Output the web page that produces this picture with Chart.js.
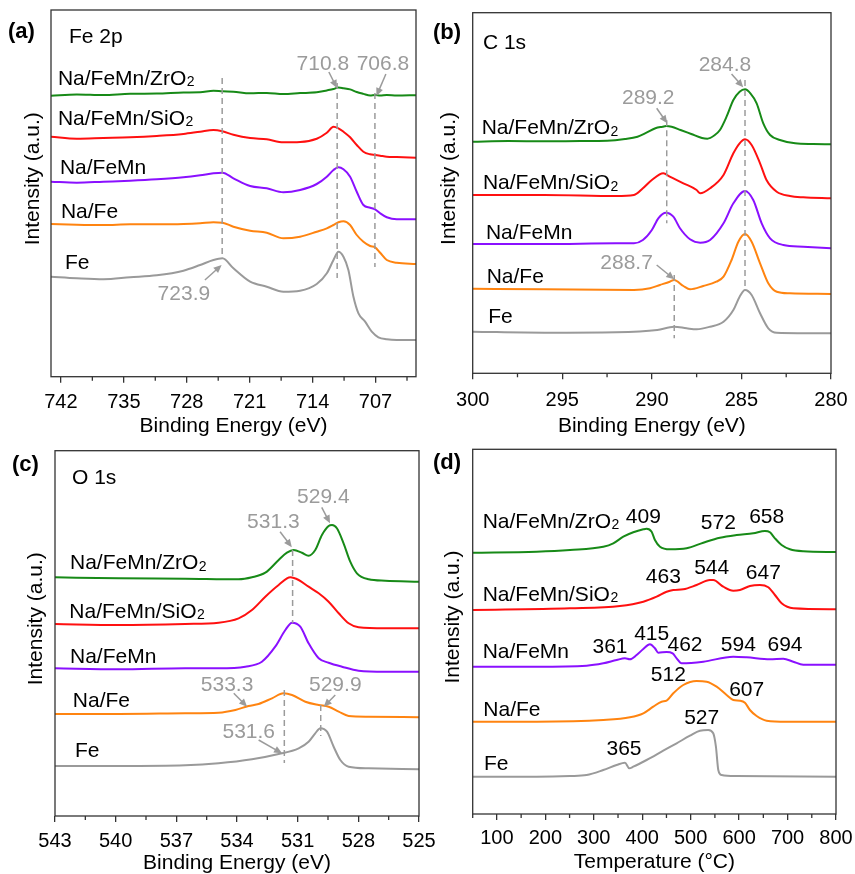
<!DOCTYPE html>
<html>
<head>
<meta charset="utf-8">
<script src="https://cdn.jsdelivr.net/npm/chart.js@4.4.1/dist/chart.umd.min.js"></script>
<style>
  body { margin: 0; background: #fff; }
  #wrap { position: relative; width: 855px; height: 874px; }
  canvas { position: absolute; }
</style>
</head>
<body>
<div id="wrap">
  <canvas id="cA" width="440" height="437" style="left:0;top:0"></canvas>
  <canvas id="cB" width="428" height="437" style="left:427px;top:0"></canvas>
  <canvas id="cC" width="440" height="437" style="left:0;top:437px"></canvas>
  <canvas id="cD" width="428" height="437" style="left:427px;top:437px"></canvas>
</div>
<script>
// ---- (a) Fe 2p ----
const aTicks = [742, 735, 728, 721, 714, 707];
const aMinor = [738.5, 731.5, 724.5, 717.5, 710.5, 703.5];
const aEnergy = [743.1, 740.23, 737.27, 734.3, 731.33, 728.37, 726.51, 725.03, 724.03, 722.81, 720.95, 719.1, 717.25, 715.39, 713.54, 712.42, 711.68, 711.13, 710.57, 709.83, 709.09, 708.35, 707.6, 707.05, 706.49, 705.75, 704.64, 702.5];
const aZr = [281.0, 282.2, 281.6, 283.0, 283.1, 284.2, 284.4, 286.0, 285.4, 285.0, 283.4, 283.8, 282.7, 283.6, 284.4, 286.3, 287.7, 289.2, 288.5, 287.3, 284.7, 282.8, 281.1, 281.7, 281.3, 281.8, 281.2, 281.5];
const aSi = [240.0, 238.0, 238.7, 239.4, 240.7, 242.7, 245.0, 246.7, 245.4, 242.0, 238.7, 237.4, 234.4, 234.7, 238.0, 244.0, 250.0, 248.4, 245.0, 239.4, 231.7, 225.0, 222.4, 221.7, 221.0, 220.0, 219.7, 219.0];
const aMn = [195.0, 194.0, 195.0, 196.0, 197.4, 199.4, 201.4, 203.4, 204.0, 198.4, 190.7, 188.4, 184.4, 186.7, 192.7, 200.0, 206.7, 209.4, 207.4, 200.0, 185.0, 171.7, 169.0, 167.4, 163.4, 159.4, 157.4, 157.4];
const aNa = [152.7, 152.0, 151.7, 152.4, 152.4, 152.7, 153.4, 154.4, 154.0, 150.0, 146.0, 144.0, 138.4, 140.0, 145.0, 148.4, 151.7, 154.4, 155.4, 151.7, 141.7, 135.0, 130.7, 129.4, 124.0, 116.7, 114.0, 112.7];
const aEnergyFe = [743.1, 740.23, 737.27, 734.3, 731.33, 728.37, 726.51, 725.03, 724.03, 722.81, 720.95, 719.1, 717.25, 715.39, 713.54, 712.42, 711.68, 711.13, 710.57, 710.02, 709.46, 708.9, 708.16, 707.42, 706.68, 705.75, 704.64, 702.5];
const aFe = [100.0, 98.4, 97.4, 99.4, 101.4, 106.0, 111.7, 116.7, 118.4, 108.4, 95.0, 90.0, 85.0, 86.0, 92.7, 103.4, 116.7, 125.0, 120.0, 106.7, 80.0, 63.4, 55.0, 45.0, 39.4, 37.4, 36.7, 36.7];

// ---- (b) C 1s ----
const bTicks = [300, 295, 290, 285, 280];
const bMinor = [297.5, 292.5, 287.5, 282.5];
const bEnergyZr = [300, 298, 296, 294, 292.5, 291.5, 290.8, 290.3, 289.8, 289.4, 289.2, 288.9, 288.4, 287.8, 287.2, 286.9, 286.5, 286.2, 285.83, 285.45, 285.1, 284.8, 284.5, 284.15, 283.78, 283.4, 282.85, 282, 281, 280];
const bZr = [231.6, 232.3, 232.0, 232.3, 232.6, 234.3, 236.6, 240.6, 245.0, 246.6, 247.3, 246.6, 243.3, 239.3, 235.3, 234.6, 238.0, 243.3, 256.6, 273.3, 281.6, 284.0, 280.0, 270.0, 250.0, 238.3, 233.3, 230.0, 229.3, 229.0];
const bEnergySi = [300, 296, 292, 291, 290.5, 290.0, 289.36, 289.0, 288.24, 287.5, 287.3, 286.75, 286.0, 285.45, 285.1, 284.8, 284.43, 283.96, 283.6, 283.03, 282.29, 281.55, 280];
const bSi = [178.3, 178.3, 177.3, 178.3, 185.0, 193.3, 200.0, 196.6, 190.0, 183.3, 180.0, 185.0, 198.3, 220.0, 230.0, 234.0, 228.3, 210.0, 193.3, 181.6, 177.3, 176.0, 175.0];
const bEnergyMn = [300, 296, 292, 291, 290.5, 290.0, 289.64, 289.21, 288.8, 288.43, 287.87, 287.3, 286.75, 286.0, 285.45, 284.8, 284.34, 283.87, 283.4, 282.66, 281.55, 280];
const bMn = [129.3, 129.3, 130.0, 130.0, 133.3, 143.3, 155.0, 160.6, 156.6, 145.0, 134.0, 130.6, 133.3, 150.0, 170.0, 182.3, 173.3, 150.0, 135.0, 128.3, 126.6, 125.0];
const bEnergyNa = [300, 296, 291, 290.1, 289.55, 289.0, 288.76, 288.24, 287.87, 287.13, 286.4, 286.0, 285.55, 285.17, 284.8, 284.43, 283.96, 283.5, 283.03, 282.29, 280];
const bNa = [84.6, 84.0, 83.3, 85.0, 88.3, 91.6, 93.3, 87.3, 84.0, 87.3, 91.6, 96.6, 113.3, 131.6, 139.3, 131.6, 110.0, 90.0, 81.6, 80.0, 79.3];
const bEnergyFe = [300, 296, 292, 289.7, 288.76, 288.06, 287.5, 286.75, 286.0, 285.45, 285.1, 284.8, 284.43, 283.96, 283.5, 283.03, 280];
const bFe = [41.6, 40.6, 41.0, 43.3, 46.6, 45.0, 44.0, 46.6, 51.6, 63.3, 76.6, 83.3, 78.3, 60.0, 45.0, 40.6, 40.0];

// ---- (c) O 1s ----
const cTicks = [543, 540, 537, 534, 531, 528, 525];
const cMinor = [541.5, 538.5, 535.5, 532.5, 529.5, 526.5];
const cEnergyZr = [543, 539.85, 536.56, 533.92, 533.26, 532.6, 531.94, 531.53, 531.2, 530.79, 530.46, 530.13, 529.8, 529.47, 529.3, 529.06, 528.73, 528.4, 528.07, 527.49, 526.67, 525];
const cZr = [238.7, 237.7, 237.3, 236.7, 238.7, 243.3, 256.0, 263.3, 266.0, 263.3, 260.3, 266.0, 281.0, 290.0, 291.0, 287.7, 272.7, 254.3, 242.7, 236.7, 235.3, 234.3];
const cEnergySi = [543, 539.85, 536.56, 534.91, 533.92, 533.26, 532.6, 531.94, 531.36, 530.95, 530.46, 529.96, 529.47, 528.97, 528.48, 527.99, 526.67, 525];
const cSi = [192.0, 191.0, 192.0, 193.3, 197.7, 206.0, 219.3, 231.0, 238.7, 236.0, 229.3, 222.7, 214.3, 202.7, 192.7, 188.7, 187.7, 187.7];
const cEnergyMn = [543, 539.85, 536.56, 534.91, 533.59, 532.77, 532.11, 531.61, 531.28, 530.87, 530.46, 529.96, 529.47, 528.81, 527.99, 526.67, 525];
const cMn = [147.7, 146.7, 147.7, 147.7, 149.3, 154.3, 169.3, 186.0, 193.3, 189.3, 172.7, 157.7, 153.3, 149.3, 145.3, 144.3, 144.3];
const cEnergyNa = [543, 539.85, 536.56, 534.91, 534.08, 533.43, 532.93, 532.27, 531.7, 531.28, 530.62, 529.96, 529.47, 528.97, 528.48, 527.49, 525];
const cNa = [102.0, 102.0, 102.7, 103.3, 106.0, 110.0, 112.0, 117.7, 122.7, 121.0, 114.3, 111.0, 109.3, 104.3, 100.0, 99.3, 98.7];
const cEnergyFe = [543, 539.85, 536.56, 534.91, 533.26, 531.94, 530.95, 530.46, 530.13, 529.88, 529.55, 529.22, 528.89, 528.48, 527.49, 525];
const cFe = [50.0, 50.0, 50.7, 52.7, 56.7, 62.0, 67.7, 74.3, 82.7, 87.7, 84.3, 69.3, 56.0, 49.3, 47.7, 46.7];

// ---- (d) H2-TPR ----
const dTicks = [100, 200, 300, 400, 500, 600, 700, 800];
const dMinor = [50, 150, 250, 350, 450, 550, 650, 750];
const dTempZr = [50, 182, 250.8, 319.6, 340.2, 360.9, 381.5, 402.2, 409, 419.4, 426.2, 436.6, 457.2, 491.6, 526, 560.4, 594.8, 629.2, 653.3, 663.6, 673.9, 687.7, 704.9, 732.4, 800];
const dZr = [261.3, 262.3, 264.0, 267.3, 270.7, 277.3, 281.7, 284.7, 285.3, 282.3, 274.0, 267.3, 264.7, 265.7, 271.3, 276.3, 279.0, 280.7, 283.0, 281.7, 275.7, 269.0, 264.7, 262.7, 262.0];
const dTempSi = [50, 250.8, 354, 402.2, 429.7, 450.3, 464.1, 484.7, 512.2, 539.8, 546.6, 567.3, 587.9, 601.7, 622.3, 643, 660.2, 673.9, 687.7, 711.8, 800];
const dSi = [204.0, 205.7, 208.0, 212.3, 217.3, 222.3, 224.0, 224.7, 229.0, 234.0, 234.0, 227.3, 223.3, 224.0, 228.0, 229.0, 226.7, 219.0, 210.7, 205.7, 204.7];
const dTempMn = [50, 182, 285.2, 319.6, 347.1, 364.3, 374.6, 388.4, 402.2, 415.9, 426.2, 433.1, 450.3, 462.7, 471, 481.3, 526, 587.9, 615.4, 663.6, 691.1, 711.8, 732.4, 800];
const dMn = [147.3, 147.3, 148.3, 150.7, 154.0, 155.7, 154.7, 159.0, 165.0, 169.7, 165.7, 161.3, 162.0, 160.7, 155.7, 150.7, 152.3, 157.3, 156.7, 154.7, 155.3, 152.3, 149.3, 149.3];
const dTempNa = [50, 182, 319.6, 374.6, 402.2, 422.8, 440, 450.3, 464.1, 484.7, 512.2, 532.9, 553.5, 574.2, 587.9, 601.7, 612, 622.3, 636.1, 656.7, 698, 800];
const dNa = [92.3, 92.3, 94.0, 96.7, 100.7, 107.3, 112.3, 113.3, 120.7, 129.0, 133.0, 132.3, 127.3, 119.0, 114.0, 113.3, 111.3, 104.0, 98.0, 93.3, 92.3, 92.3];
const dTempFe = [50, 182, 250.8, 285.2, 319.6, 347.1, 364.3, 373.3, 381.5, 409, 443.4, 471, 498.5, 519.1, 536.3, 546.6, 552.1, 557, 563.8, 594.8, 800];
const dFe = [37.3, 37.3, 38.0, 39.0, 44.0, 49.0, 51.3, 45.7, 47.3, 54.0, 63.3, 70.7, 78.3, 83.3, 84.0, 80.7, 67.3, 44.0, 39.0, 38.0, 37.3];

const FAMILY = '"Liberation Sans", Arial, sans-serif';
const colors = { zr: '#178a17', si: '#ff1010', mn: '#8a10ff', na: '#ff8410', fe: '#9a9a9a' };
const GRAY = '#9b9b9b';

// draw text; "_2" marks a subscript
function drawLabel(ctx, txt, px, py, align, color, size) {
  const parts = txt.split('_');
  const main = parts[0], sub = parts[1] || '';
  const subSize = Math.round(size * 0.68);
  ctx.font = size + 'px ' + FAMILY;
  const wMain = ctx.measureText(main).width;
  ctx.font = subSize + 'px ' + FAMILY;
  const wSub = sub ? ctx.measureText(sub).width + 0.5 : 0;
  let x0 = align === 'center' ? px - (wMain + wSub) / 2 : px;
  const base = py + size * 0.36;
  ctx.fillStyle = color;
  ctx.textAlign = 'left';
  ctx.textBaseline = 'alphabetic';
  ctx.font = size + 'px ' + FAMILY;
  ctx.fillText(main, x0, base);
  if (sub) {
    ctx.font = subSize + 'px ' + FAMILY;
    ctx.fillText(sub, x0 + wMain + 0.5, base + 1.5);
  }
}

function drawArrow(ctx, x1, y1, x2, y2) {
  const ang = Math.atan2(y2 - y1, x2 - x1);
  const L = 8, W = 3.6;
  const c = Math.cos(ang), s = Math.sin(ang);
  ctx.strokeStyle = GRAY;
  ctx.fillStyle = GRAY;
  ctx.lineWidth = 1.5;
  ctx.beginPath();
  ctx.moveTo(x1, y1);
  ctx.lineTo(x2 - L * 0.7 * c, y2 - L * 0.7 * s);
  ctx.stroke();
  ctx.beginPath();
  ctx.moveTo(x2, y2);
  ctx.lineTo(x2 - L * c + W * s, y2 - L * s - W * c);
  ctx.lineTo(x2 - L * c - W * s, y2 - L * s + W * c);
  ctx.closePath();
  ctx.fill();
}

// frame, minor ticks, arrows and text labels
const decor = {
  id: 'decor',
  afterDraw(chart, args, opts) {
    const { ctx, chartArea: a } = chart;
    const x = chart.scales.x, y = chart.scales.y;
    ctx.save();
    ctx.strokeStyle = '#333';
    ctx.lineWidth = 1.3;
    ctx.strokeRect(a.left, a.top, a.right - a.left, a.bottom - a.top);
    ctx.beginPath();
    opts.minor.forEach(v => {
      const px = x.getPixelForValue(v);
      ctx.moveTo(px, a.bottom);
      ctx.lineTo(px, a.bottom + 4);
    });
    ctx.stroke();
    (opts.arrows || []).forEach(r => {
      drawArrow(ctx, x.getPixelForValue(r[0]), y.getPixelForValue(r[1]),
        x.getPixelForValue(r[2]), y.getPixelForValue(r[3]));
    });
    (opts.texts || []).forEach(t => {
      drawLabel(ctx, t.t, x.getPixelForValue(t.x), y.getPixelForValue(t.y),
        t.a || 'left', t.c || '#000', 21);
    });
    ctx.font = 'bold 22px ' + FAMILY;
    ctx.fillStyle = '#000';
    ctx.textAlign = 'left';
    ctx.textBaseline = 'middle';
    ctx.fillText(opts.letter.t, opts.letter.x, opts.letter.y);
    ctx.restore();
  }
};

function pts(xs, ys) { return xs.map((v, i) => ({ x: v, y: ys[i] })); }

function curve(xs, ys, color) {
  return { data: pts(xs, ys), borderColor: color, borderWidth: 2, pointRadius: 0,
    cubicInterpolationMode: 'monotone', fill: false };
}

function dash(xv, y1, y2) {
  return { data: [{ x: xv, y: y1 }, { x: xv, y: y2 }], borderColor: GRAY, borderWidth: 1.5,
    borderDash: [6, 4], pointRadius: 0 };
}

function makePanel(id, p) {
  const canvas = document.getElementById(id);
  return new Chart(canvas.getContext('2d'), {
    type: 'line',
    data: { datasets: p.datasets },
    options: {
      responsive: false,
      animation: false,
      layout: { padding: { left: 0, top: p.top, right: canvas.width - p.right, bottom: 0 } },
      plugins: {
        legend: { display: false },
        tooltip: { enabled: false },
        decor: p.decor
      },
      scales: {
        x: {
          type: 'linear', reverse: p.reverse, min: p.xmin, max: p.xmax,
          afterBuildTicks: s => { s.ticks = p.ticks.map(v => ({ value: v })); },
          afterFit: s => { s.height = canvas.height - p.bottom; s.paddingLeft = 0; s.paddingRight = 0; },
          grid: { display: true, drawOnChartArea: false, drawTicks: true, tickLength: 6, color: '#333', lineWidth: 1.3 },
          border: { display: false },
          ticks: { font: { size: 20, family: FAMILY }, color: '#000', padding: p.tickPad, maxRotation: 0, autoSkip: false },
          title: { display: true, text: p.xTitle, color: '#000', font: { size: 21, family: FAMILY },
            padding: { top: 0, bottom: p.xTitlePad } }
        },
        y: {
          min: 0, max: p.ymax,
          ticks: { display: false },
          grid: { display: false },
          border: { display: false },
          afterFit: s => { s.width = p.left; s.paddingTop = 0; s.paddingBottom = 0; },
          title: { display: true, text: '     Intensity (a.u.)', color: '#000', font: { size: 21, family: FAMILY },
            padding: { top: p.yTitlePad, bottom: 0 } }
        }
      }
    },
    plugins: [decor]
  });
}

// (a)
makePanel('cA', {
  left: 51, top: 10, right: 416, bottom: 376.7, ymax: 366.7,
  xmin: 702.5, xmax: 743.1, reverse: true, ticks: aTicks, tickPad: 8,
  xTitle: 'Binding Energy (eV)', xTitlePad: -2, yTitlePad: 21,
  datasets: [
    dash(724.06, 298.7, 118), dash(711.27, 293.7, 98.7), dash(707.07, 283.7, 109.7),
    curve(aEnergy, aZr, colors.zr), curve(aEnergy, aSi, colors.si), curve(aEnergy, aMn, colors.mn),
    curve(aEnergy, aNa, colors.na), curve(aEnergyFe, aFe, colors.fe)
  ],
  decor: {
    minor: aMinor,
    letter: { t: '(a)', x: 8, y: 32 },
    arrows: [[712.19, 304.7, 711.3, 288.7], [705.85, 302.7, 706.9, 280.7], [725.98, 96.7, 724.12, 111.7]],
    texts: [
      { x: 741.1, y: 341.7, t: 'Fe 2p' },
      { x: 742.33, y: 299.7, t: 'Na/FeMn/ZrO_2' },
      { x: 742.33, y: 259.7, t: 'Na/FeMn/SiO_2' },
      { x: 742.11, y: 210, t: 'Na/FeMn' },
      { x: 742.0, y: 166.7, t: 'Na/Fe' },
      { x: 741.55, y: 115, t: 'Fe' },
      { x: 712.86, y: 314.7, t: '710.8', a: 'center', c: GRAY },
      { x: 706.18, y: 314.7, t: '706.8', a: 'center', c: GRAY },
      { x: 728.32, y: 84.7, t: '723.9', a: 'center', c: GRAY }
    ]
  }
});

// (b)
makePanel('cB', {
  left: 45.7, top: 12.7, right: 404, bottom: 373.3, ymax: 360.6,
  xmin: 280, xmax: 300, reverse: true, ticks: bTicks, tickPad: 9,
  xTitle: 'Binding Energy (eV)', xTitlePad: -2, yTitlePad: 10,
  datasets: [
    dash(284.8, 293.3, 83), dash(289.17, 253, 150), dash(288.75, 98.3, 35),
    curve(bEnergyZr, bZr, colors.zr), curve(bEnergySi, bSi, colors.si), curve(bEnergyMn, bMn, colors.mn),
    curve(bEnergyNa, bNa, colors.na), curve(bEnergyFe, bFe, colors.fe)
  ],
  decor: {
    minor: bMinor,
    letter: { t: '(b)', x: 6, y: 33 },
    arrows: [[285.55, 299.3, 284.9, 286], [289.73, 265, 289.14, 250], [289.73, 108.3, 288.75, 94]],
    texts: [
      { x: 299.43, y: 331.6, t: 'C 1s' },
      { x: 299.5, y: 246.6, t: 'Na/FeMn/ZrO_2' },
      { x: 299.43, y: 191.6, t: 'Na/FeMn/SiO_2' },
      { x: 299.26, y: 141.6, t: 'Na/FeMn' },
      { x: 299.22, y: 98.3, t: 'Na/Fe' },
      { x: 299.13, y: 58.3, t: 'Fe' },
      { x: 285.92, y: 310, t: '284.8', a: 'center', c: GRAY },
      { x: 290.2, y: 276.6, t: '289.2', a: 'center', c: GRAY },
      { x: 291.41, y: 111.6, t: '288.7', a: 'center', c: GRAY }
    ]
  }
});

// (c)
makePanel('cC', {
  left: 55, top: 13.7, right: 419, bottom: 379, ymax: 365.3,
  xmin: 525, xmax: 543, reverse: true, ticks: cTicks, tickPad: 7,
  xTitle: 'Binding Energy (eV)', xTitlePad: -2, yTitlePad: 24,
  datasets: [
    dash(531.25, 266, 193), dash(531.66, 126, 53), dash(529.86, 111, 80),
    curve(cEnergyZr, cZr, colors.zr), curve(cEnergySi, cSi, colors.si), curve(cEnergyMn, cMn, colors.mn),
    curve(cEnergyNa, cNa, colors.na), curve(cEnergyFe, cFe, colors.fe)
  ],
  decor: {
    minor: cMinor,
    letter: { t: '(c)', x: 12, y: 28 },
    arrows: [[529.81, 308.7, 529.4, 292.7], [531.87, 284.3, 531.29, 268.7], [534.16, 122.7, 533.5, 109.3],
      [529.14, 121, 529.71, 109.3], [532.93, 76, 531.77, 62.7]],
    texts: [
      { x: 542.16, y: 339.3, t: 'O 1s' },
      { x: 542.26, y: 254.3, t: 'Na/FeMn/ZrO_2' },
      { x: 542.29, y: 206, t: 'Na/FeMn/SiO_2' },
      { x: 542.26, y: 161, t: 'Na/FeMn' },
      { x: 542.12, y: 116.7, t: 'Na/Fe' },
      { x: 542.01, y: 66.7, t: 'Fe' },
      { x: 529.73, y: 321, t: '529.4', a: 'center', c: GRAY },
      { x: 532.2, y: 296, t: '531.3', a: 'center', c: GRAY },
      { x: 534.49, y: 132.7, t: '533.3', a: 'center', c: GRAY },
      { x: 529.14, y: 132.7, t: '529.9', a: 'center', c: GRAY },
      { x: 533.42, y: 86, t: '531.6', a: 'center', c: GRAY }
    ]
  }
});

// (d)
makePanel('cD', {
  left: 45.7, top: 12.3, right: 409, bottom: 377, ymax: 364.7,
  xmin: 50, xmax: 800, reverse: false, ticks: dTicks, tickPad: 6,
  xTitle: 'Temperature (°C)', xTitlePad: -1, yTitlePad: 14,
  datasets: [
    curve(dTempZr, dZr, colors.zr), curve(dTempSi, dSi, colors.si), curve(dTempMn, dMn, colors.mn),
    curve(dTempNa, dNa, colors.na), curve(dTempFe, dFe, colors.fe)
  ],
  decor: {
    minor: dMinor,
    letter: { t: '(d)', x: 6, y: 26 },
    texts: [
      { x: 70.6, y: 294, t: 'Na/FeMn/ZrO_2' },
      { x: 70.6, y: 220.7, t: 'Na/FeMn/SiO_2' },
      { x: 70.6, y: 164, t: 'Na/FeMn' },
      { x: 71.9, y: 105.7, t: 'Na/Fe' },
      { x: 73.3, y: 51.3, t: 'Fe' },
      { x: 402.2, y: 299, t: '409', a: 'center' },
      { x: 557, y: 292.3, t: '572', a: 'center' },
      { x: 656.9, y: 299, t: '658', a: 'center' },
      { x: 443.5, y: 238.3, t: '463', a: 'center' },
      { x: 543.4, y: 247.3, t: '544', a: 'center' },
      { x: 650, y: 242.3, t: '647', a: 'center' },
      { x: 333.4, y: 169, t: '361', a: 'center' },
      { x: 419.5, y: 181.3, t: '415', a: 'center' },
      { x: 488.3, y: 170.5, t: '462', a: 'center' },
      { x: 598.3, y: 170.7, t: '594', a: 'center' },
      { x: 694.7, y: 170.7, t: '694', a: 'center' },
      { x: 453.8, y: 140.7, t: '512', a: 'center' },
      { x: 615.6, y: 125.7, t: '607', a: 'center' },
      { x: 522.7, y: 98, t: '527', a: 'center' },
      { x: 362.3, y: 66.7, t: '365', a: 'center' }
    ]
  }
});
</script>
</body>
</html>
